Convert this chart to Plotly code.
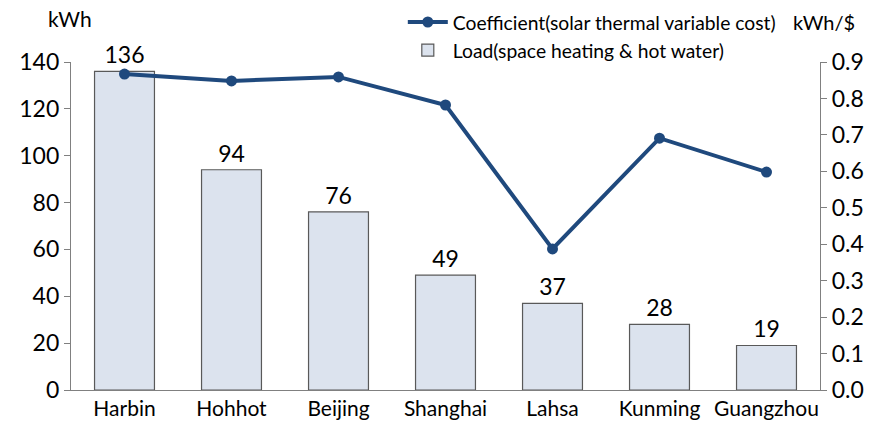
import plotly.graph_objects as go

cities = ["Harbin", "Hohhot", "Beijing", "Shanghai", "Lahsa", "Kunming", "Guangzhou"]
load_kwh = [136, 94, 76, 49, 37, 28, 19]
coefficient = [0.867, 0.848, 0.859, 0.782, 0.387, 0.691, 0.598]
left_ticks = [0, 20, 40, 60, 80, 100, 120, 140]
right_ticks = [0.0, 0.1, 0.2, 0.3, 0.4, 0.5, 0.6, 0.7, 0.8, 0.9]

FONT = "Lato, Open Sans, sans-serif"

fig = go.Figure()
fig.add_trace(go.Bar(
    x=cities, y=load_kwh, name="Load(space heating & hot water)",
    marker=dict(color="#DCE3EE", line=dict(color="#595959", width=1.2)),
    width=0.56, text=[str(v) for v in load_kwh], textposition="outside",
    textfont=dict(size=23, color="black", family=FONT), cliponaxis=False,
    legendrank=2,
))
fig.add_trace(go.Scatter(
    x=cities, y=coefficient, yaxis="y2", mode="lines+markers",
    name="Coefficient(solar thermal variable cost)",
    line=dict(color="#1F497D", width=4),
    marker=dict(size=11, color="#1F497D"),
    legendrank=1,
))

fig.update_layout(
    width=877, height=431,
    margin=dict(l=71, r=57, t=62, b=41, autoexpand=False),
    plot_bgcolor="white", paper_bgcolor="white",
    font=dict(family=FONT, size=20, color="black"),
    showlegend=True,
    legend=dict(x=0.443, y=1.18, xanchor="left", yanchor="top",
                font=dict(size=19.3, color="black", family=FONT),
                traceorder="normal", bgcolor="rgba(0,0,0,0)",
                itemwidth=40),
    xaxis=dict(showline=True, linecolor="#808080", linewidth=1.2,
               ticks="", tickfont=dict(size=21), showgrid=False, zeroline=False),
    yaxis=dict(range=[0, 140], tickvals=left_ticks, showline=True,
               linecolor="#808080", linewidth=1.2, ticks="outside", ticklen=6,
               tickcolor="#808080", showgrid=False, zeroline=False,
               tickfont=dict(size=23)),
    yaxis2=dict(range=[0, 0.9], tickvals=right_ticks, tickformat=".1f",
                overlaying="y", side="right", showline=True,
                linecolor="#808080", linewidth=1.2, ticks="outside", ticklen=6,
                tickcolor="#808080", showgrid=False, zeroline=False,
                tickfont=dict(size=23)),
)
fig.add_annotation(text="kWh", xref="paper", yref="paper", x=-0.002, y=1.134,
                   xanchor="center", yanchor="middle", showarrow=False,
                   font=dict(size=21, family=FONT))
fig.add_annotation(text="kWh/$", xref="paper", yref="paper", x=1.005, y=1.122,
                   xanchor="center", yanchor="middle", showarrow=False,
                   font=dict(size=20, family=FONT))

fig.write_html("out.html", config={"displayModeBar": False},
               post_script="document.body.style.margin='0';")
